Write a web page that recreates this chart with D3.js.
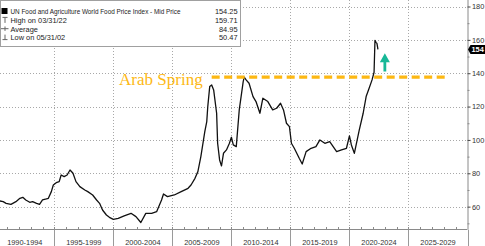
<!DOCTYPE html>
<html>
<head>
<meta charset="utf-8">
<script src="https://cdn.jsdelivr.net/npm/d3@7"></script>
<style>
  html, body { margin: 0; padding: 0; background: #fff; }
  svg { display: block; font-family: "Liberation Sans", Arial, sans-serif; }
</style>
</head>
<body>
<div id="chart"></div>
<script>
// FAO food price index (monthly points, thinned)
const months = [
  "1990-01","1990-09","1990-12","1991-05","1991-10","1992-02","1992-05","1992-08","1992-12",
  "1993-03","1993-07","1993-10","1994-01","1994-05","1994-07","1994-10","1994-12",
  "1995-03","1995-06","1995-08","1995-11","1996-02","1996-05","1996-08","1996-11",
  "1997-03","1997-08","1997-11","1998-04","1998-08","1998-11","1999-02","1999-06","1999-09",
  "2000-01","2000-06","2000-12","2001-07","2001-12","2002-05","2002-10","2003-04","2003-09",
  "2004-02","2004-04","2004-08","2005-03","2005-10","2006-05","2006-08","2006-12",
  "2007-03","2007-06","2007-10","2007-12","2008-01","2008-03","2008-05","2008-07","2008-10","2008-11",
  "2009-01","2009-03","2009-05","2009-08","2009-11","2010-01","2010-03","2010-06","2010-09",
  "2011-01","2011-02","2011-04","2011-07","2011-11","2012-02","2012-06","2012-09",
  "2013-02","2013-07","2013-11","2014-03","2014-06","2014-09","2014-12",
  "2015-02","2015-05","2015-10","2016-01","2016-05","2016-10","2017-03","2017-07","2017-12",
  "2018-05","2018-12","2019-05","2019-10","2020-01","2020-03","2020-06","2020-11",
  "2021-03","2021-06","2021-09","2021-12","2022-02","2022-03","2022-04","2022-05","2022-06"
];
const priceIndex = [
  64,63,62,61.4,63,65,65.6,64,62.6,
  63,62,61.4,64,64.6,65,69,73,
  74.4,75,79,78,79,82,80,75,
  72,70,69,67,64,62,58,55,53.6,
  52.4,53,54.5,56,54,50.5,56,56,57,
  64,67.6,66,67,69,71,73,77,
  81,90,105,111,120,132,133,130,116,98,
  88,84.4,92,94,98,101.6,97,96,118,
  135,137.6,136,134,126,123,116,125,
  123,118,119,122,118,110,108,
  98,95,89,85.6,93,95,96,100,98,
  99,93,94,95,102.4,97,92,106,
  116,126,131,136,140.6,159.71,158.5,157.9,154.25
];

const yTicks = [60, 80, 100, 120, 140, 160, 180];
const yMinorTicks = [50, 70, 90, 110, 130, 150, 170];
const periodStarts = [1990, 1995, 2000, 2005, 2010, 2015, 2020, 2025, 2030];
const periodLabels = ["1990-1994","1995-1999","2000-2004","2005-2009","2010-2014","2015-2019","2020-2024","2025-2029"];

const legendRows = [
  { sym: "square", label: "UN Food and Agriculture World Food Price Index - Mid Price", value: "154.25" },
  { sym: "high", label: "High on 03/31/22", value: "159.71" },
  { sym: "avg", label: "Average", value: "84.95" },
  { sym: "low", label: "Low on 05/31/02", value: "50.47" }
];

const lastValue = 154.25;
const arabSpringLevel = 137.6;
const arabSpringSpan = ["2008-05", "2028-04"];
const arrowAt = "2023-01";
const arrowRange = [141, 152];

const W = 485, H = 246;
const plotRight = 467.5, plotBottom = 229;
const parse = d3.timeParse("%Y-%m");
const data = months.map((m, i) => ({ date: parse(m), v: priceIndex[i] }));

const svg = d3.select("#chart").append("svg")
  .attr("width", W).attr("height", H);

svg.append("rect").attr("width", W).attr("height", H).attr("fill", "#fff");

const x = d3.scaleTime()
  .domain([new Date(1990, 0, 1), new Date(2030, 0, 1)])
  .range([-4.7, plotRight]);
const y = d3.scaleLinear()
  .domain([46.6, 183.9])
  .range([plotBottom, 0]);

// grid
const grid = svg.append("g").attr("stroke", "#a8a8a8").attr("stroke-width", 1)
  .attr("stroke-dasharray", "1,2");
grid.selectAll(".hg").data(yTicks).enter().append("line")
  .attr("x1", 0).attr("x2", plotRight)
  .attr("y1", d => Math.round(y(d)) + 0.5).attr("y2", d => Math.round(y(d)) + 0.5);
grid.selectAll(".vg").data(periodStarts.slice(1, -1)).enter().append("line")
  .attr("x1", d => Math.round(x(new Date(d, 0, 1))) + 0.5)
  .attr("x2", d => Math.round(x(new Date(d, 0, 1))) + 0.5)
  .attr("y1", 0).attr("y2", plotBottom);

// x axis: year ticks above, period separators below
const xAxis = svg.append("g").attr("transform", `translate(0,${plotBottom + 0.5})`);
xAxis.append("line").attr("x1", 0).attr("x2", plotRight).attr("stroke", "#8a8a8a");
xAxis.selectAll(".yt").data(d3.range(1991, 2030)).enter().append("line")
  .attr("x1", d => Math.round(x(new Date(d, 0, 1))) + 0.5)
  .attr("x2", d => Math.round(x(new Date(d, 0, 1))) + 0.5)
  .attr("y1", -2.5).attr("y2", 0).attr("stroke", "#8a8a8a");
xAxis.selectAll(".sep").data(periodStarts.slice(1)).enter().append("line")
  .attr("x1", d => Math.round(x(new Date(d, 0, 1))) + 0.5)
  .attr("x2", d => Math.round(x(new Date(d, 0, 1))) + 0.5)
  .attr("y1", 0).attr("y2", H).attr("stroke", "#9a9a9a");
xAxis.selectAll(".pl").data(periodLabels).enter().append("text")
  .attr("x", (d, i) => (x(new Date(periodStarts[i], 0, 1)) + x(new Date(periodStarts[i + 1], 0, 1))) / 2)
  .attr("y", 15.5)
  .attr("text-anchor", "middle")
  .attr("font-size", 7.4)
  .attr("fill", "#333")
  .text(d => d);

// right axis
const yAxis = svg.append("g").attr("transform", `translate(${plotRight},0)`);
yAxis.call(d3.axisRight(y).tickValues(yTicks).tickSize(3).tickPadding(1.5));
yAxis.select(".domain").attr("stroke", "#8a8a8a").attr("d", `M0.5,0V${plotBottom}`);
yAxis.selectAll(".tick line").attr("stroke", "#444");
yAxis.selectAll(".tick text").attr("font-size", 7.4).attr("fill", "#333")
  .attr("font-family", "Liberation Sans, Arial, sans-serif");
const yMinor = svg.append("g").attr("transform", `translate(${plotRight},0)`);
yMinor.call(d3.axisRight(y).tickValues(yMinorTicks).tickSize(2).tickFormat(""));
yMinor.select(".domain").remove();
yMinor.selectAll(".tick line").attr("stroke", "#8a8a8a");

// price line
svg.append("clipPath").attr("id", "plotclip").append("rect")
  .attr("x", 0).attr("y", 0).attr("width", plotRight).attr("height", plotBottom);
svg.append("path")
  .datum(data)
  .attr("clip-path", "url(#plotclip)")
  .attr("fill", "none")
  .attr("stroke", "#111")
  .attr("stroke-width", 1.3)
  .attr("stroke-linejoin", "round")
  .attr("d", d3.line().x(d => x(d.date)).y(d => y(d.v)));

// Arab Spring annotation
const asY = y(arabSpringLevel);
svg.append("line")
  .attr("x1", x(parse(arabSpringSpan[0]))).attr("x2", x(parse(arabSpringSpan[1])))
  .attr("y1", asY).attr("y2", asY)
  .attr("stroke", "#FDB813").attr("stroke-width", 3.2)
  .attr("stroke-dasharray", "8,4.5");
svg.append("text")
  .attr("x", x(parse(arabSpringSpan[0])) - 9)
  .attr("y", asY + 7.5)
  .attr("text-anchor", "end")
  .attr("font-family", "Liberation Serif, Times New Roman, serif")
  .attr("font-size", 17)
  .attr("fill", "#FDB813")
  .text("Arab Spring");

// green arrow
const ax = x(parse(arrowAt));
const aTop = y(arrowRange[1]), aBot = y(arrowRange[0]);
svg.append("path")
  .attr("d", `M${ax},${aTop} L${ax + 5},${aTop + 9} L${ax + 1.4},${aTop + 9} L${ax + 1.4},${aBot} L${ax - 1.4},${aBot} L${ax - 1.4},${aTop + 9} L${ax - 5},${aTop + 9} Z`)
  .attr("fill", "#17B897");

// last value tag
const ly = y(lastValue);
svg.append("path")
  .attr("d", `M${plotRight + 0.5},${ly} L${plotRight + 3},${ly - 4.5} H${W} V${ly + 4.5} H${plotRight + 3} Z`)
  .attr("fill", "#000");
svg.append("text")
  .attr("x", plotRight + 4).attr("y", ly + 2.7)
  .attr("font-size", 7.4).attr("font-weight", "bold").attr("fill", "#fff")
  .text(Math.floor(lastValue));

// legend box
const legend = svg.append("g");
legend.append("rect")
  .attr("x", 0.5).attr("y", 0.5).attr("width", 240).attr("height", 46)
  .attr("fill", "#fff").attr("stroke", "#a0a0a0");
const rowY = i => 14.3 + i * 8.6;
legendRows.forEach((r, i) => {
  const g = legend.append("g").attr("transform", `translate(0,${rowY(i)})`);
  const c = -2.8;
  if (r.sym === "square") {
    g.append("rect").attr("x", 1.5).attr("y", -6.3).attr("width", 6).attr("height", 6).attr("fill", "#000");
  } else if (r.sym === "high") {
    g.append("path").attr("d", `M2.5,-5.5H7.5M5,-5.5V0`).attr("stroke", "#666").attr("fill", "none");
  } else if (r.sym === "avg") {
    g.append("path").attr("d", `M1,${c}H8.5M5,${c - 2.2}V${c + 2.2}`).attr("stroke", "#666").attr("fill", "none");
  } else {
    g.append("path").attr("d", `M2.5,-0.5H7.5M5,-0.5V-5.5`).attr("stroke", "#666").attr("fill", "none");
  }
  const t = g.append("text").attr("x", 10.5).attr("y", 0)
    .attr("font-size", 7.4).attr("fill", "#222").text(r.label);
  if (i === 0) t.attr("textLength", 170).attr("lengthAdjust", "spacingAndGlyphs");
  g.append("text").attr("x", 237.5).attr("y", 0).attr("text-anchor", "end")
    .attr("font-size", 7.4).attr("fill", "#222").text(r.value);
});
</script>
</body>
</html>
